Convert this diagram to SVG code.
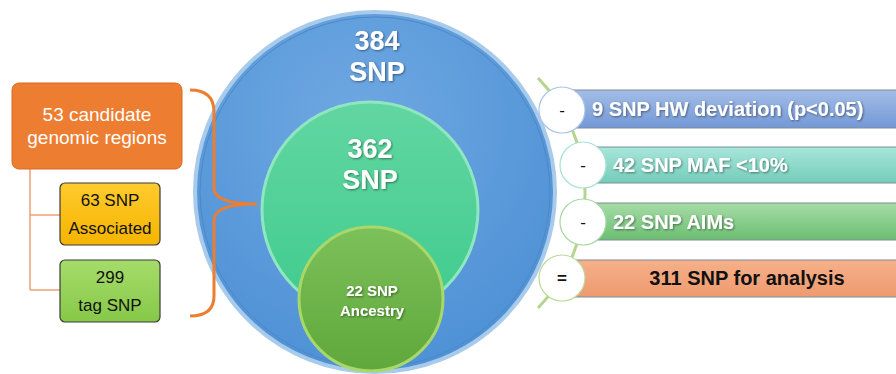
<svg xmlns="http://www.w3.org/2000/svg" width="896" height="374" viewBox="0 0 896 374">
<defs>
<radialGradient id="gBig" cx="0.45" cy="0.3" r="0.8">
<stop offset="0" stop-color="#6FA8E2"/>
<stop offset="1" stop-color="#4A8ED4"/>
</radialGradient>
<linearGradient id="gMid" x1="0" y1="0" x2="0" y2="1">
<stop offset="0" stop-color="#62D6A2"/>
<stop offset="1" stop-color="#3FCB8C"/>
</linearGradient>
<linearGradient id="gSmall" x1="0" y1="0" x2="0" y2="1">
<stop offset="0" stop-color="#7CC05A"/>
<stop offset="1" stop-color="#5FA83A"/>
</linearGradient>
<linearGradient id="gB1" x1="0" y1="0" x2="0" y2="1"><stop offset="0" stop-color="#A3BDE6"/><stop offset="1" stop-color="#7398D6"/></linearGradient>
<linearGradient id="gB2" x1="0" y1="0" x2="0" y2="1"><stop offset="0" stop-color="#A8E6DA"/><stop offset="1" stop-color="#74CCBA"/></linearGradient>
<linearGradient id="gB3" x1="0" y1="0" x2="0" y2="1"><stop offset="0" stop-color="#A6DCA6"/><stop offset="1" stop-color="#6CBE72"/></linearGradient>
<linearGradient id="gB4" x1="0" y1="0" x2="0" y2="1"><stop offset="0" stop-color="#F6B08A"/><stop offset="1" stop-color="#EE9A6E"/></linearGradient>
<linearGradient id="gY" x1="0" y1="0" x2="0" y2="1"><stop offset="0" stop-color="#FFCB2E"/><stop offset="1" stop-color="#F5B400"/></linearGradient>
<linearGradient id="gG" x1="0" y1="0" x2="0" y2="1"><stop offset="0" stop-color="#A6DC6A"/><stop offset="1" stop-color="#86C848"/></linearGradient>
<filter id="sh" x="-10%" y="-10%" width="130%" height="130%"><feDropShadow dx="1" dy="1" stdDeviation="0.8" flood-color="#000" flood-opacity="0.45"/></filter>
</defs>
<style>
text{font-family:"Liberation Sans","Open Sans",Arial,sans-serif;text-anchor:middle}
.wb{fill:#fff;font-weight:bold;filter:url(#sh)}
.bl{fill:#111}
.bar{stroke:#7f8c99;stroke-width:1}
.bt{fill:#fff;font-weight:bold;font-size:20px;text-anchor:start;filter:url(#sh)}
.sym{fill:#fff;stroke-width:1.2}
.conn{fill:none;stroke:#F0A070;stroke-width:1.5}
</style>
<rect width="896" height="374" fill="#fff"/>

<g id="connectors">
<path class="conn" d="M30 169 V290 M30 215 H60 M30 290 H60"/>
<path d="M538 78 A164 164 0 0 1 538 308" fill="none" stroke="#B5D58E" stroke-width="3"/>
</g>

<g id="circle-384">
<circle cx="375" cy="192" r="180" fill="url(#gBig)" stroke="#A9CBEB" stroke-width="4"/>
<circle cx="375" cy="192" r="175" fill="none" stroke="#4E88C4" stroke-width="1"/>
<text class="wb" x="377" y="50" font-size="27">384</text>
<text class="wb" x="377" y="81" font-size="27">SNP</text>
</g>

<g id="circle-362">
<circle cx="370" cy="210" r="108" fill="url(#gMid)" stroke="#8FE6C0" stroke-width="3"/>
<text class="wb" x="370" y="158" font-size="27">362</text>
<text class="wb" x="370" y="189" font-size="27">SNP</text>
</g>

<g id="circle-22">
<circle cx="371" cy="299" r="72" fill="url(#gSmall)" stroke="#A9D86A" stroke-width="3"/>
<text class="wb" x="372" y="296" font-size="15">22 SNP</text>
<text class="wb" x="372" y="316" font-size="15">Ancestry</text>
</g>

<g id="brace">
<path d="M190 90 Q214 90 214 112 V188 Q214 204 257 204 Q214 204 214 220 V296 Q214 316 190 316" fill="none" stroke="#ED7D31" stroke-width="3"/>
</g>

<g id="regions">
<rect x="12" y="83" width="170" height="86" rx="7" fill="#ED7D31" stroke="#D96A20" stroke-width="1"/>
<text x="97" y="121" font-size="19" fill="#fff">53 candidate</text>
<text x="97" y="144" font-size="19" fill="#fff">genomic regions</text>
</g>

<g id="associated">
<rect x="60" y="183" width="100" height="62" rx="5" fill="url(#gY)" stroke="#3a3a3a" stroke-width="1.2"/>
<text class="bl" x="110" y="206" font-size="17">63 SNP</text>
<text class="bl" x="110" y="234" font-size="17">Associated</text>
</g>

<g id="tag">
<rect x="60" y="260" width="100" height="62" rx="5" fill="url(#gG)" stroke="#3a3a3a" stroke-width="1.2"/>
<text class="bl" x="110" y="283" font-size="17">299</text>
<text class="bl" x="110" y="311" font-size="17">tag SNP</text>
</g>

<g id="hw">
<rect class="bar" x="560" y="90" width="340" height="38" fill="url(#gB1)"/>
<circle class="sym" cx="562" cy="110" r="23" stroke="#A9C4E8"/>
<text x="562" y="116" font-size="17" class="bl">-</text>
<text class="bt" x="592" y="116">9 SNP HW deviation (p&lt;0.05)</text>
</g>

<g id="maf">
<rect class="bar" x="580" y="147" width="320" height="36" fill="url(#gB2)"/>
<circle class="sym" cx="583" cy="165" r="23" stroke="#A8E0D4"/>
<text x="583" y="171" font-size="17" class="bl">-</text>
<text class="bt" x="613" y="172">42 SNP MAF &lt;10%</text>
</g>

<g id="aims">
<rect class="bar" x="580" y="203" width="320" height="37" fill="url(#gB3)"/>
<circle class="sym" cx="583" cy="222" r="23" stroke="#A6D8A6"/>
<text x="583" y="228" font-size="17" class="bl">-</text>
<text class="bt" x="613" y="229">22  SNP AIMs</text>
</g>

<g id="result">
<rect class="bar" x="560" y="260" width="340" height="37" fill="url(#gB4)"/>
<circle class="sym" cx="562" cy="278" r="23" stroke="#BCD89A"/>
<text x="562" y="284" font-size="17" class="bl" font-weight="bold">=</text>
<text x="747" y="285" font-size="20" class="bl" font-weight="bold">311 SNP for analysis</text>
</g>
</svg>
